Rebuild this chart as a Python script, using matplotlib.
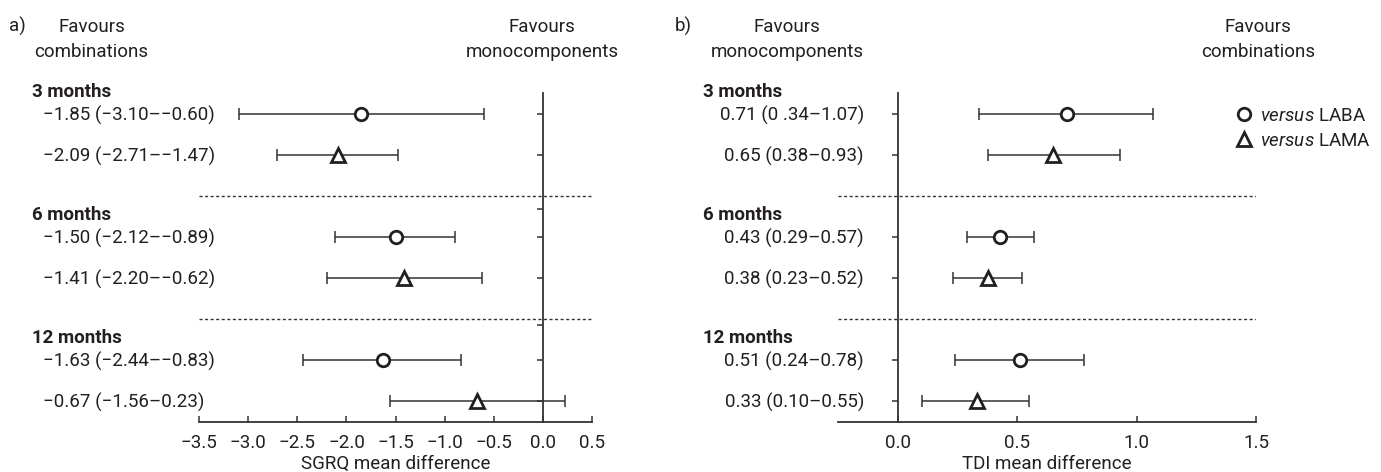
import matplotlib
matplotlib.use('Agg')
import matplotlib.pyplot as plt
from matplotlib.lines import Line2D
import matplotlib.transforms as mtransforms

W, H = 1381, 472
plt.rcParams['font.family'] = ['Roboto', 'DejaVu Sans']
plt.rcParams['mathtext.fontset'] = 'custom'
plt.rcParams['mathtext.it'] = 'Roboto:italic'
plt.rcParams['mathtext.rm'] = 'Roboto'
TC = '#231f20'
LC = '#333333'
FS = 13.5

# ---------------- data ----------------
groups = ['3 months', '6 months', '12 months']
comparators = ['versus LABA', 'versus LAMA']

sgrq_est = [-1.85, -2.09, -1.50, -1.41, -1.63, -0.67]
sgrq_lo = [-3.10, -2.71, -2.12, -2.20, -2.44, -1.56]
sgrq_hi = [-0.60, -1.47, -0.89, -0.62, -0.83, 0.23]
sgrq_labels = ['\u22121.85 (\u22123.10\u2013\u22120.60)', '\u22122.09 (\u22122.71\u2013\u22121.47)',
               '\u22121.50 (\u22122.12\u2013\u22120.89)', '\u22121.41 (\u22122.20\u2013\u22120.62)',
               '\u22121.63 (\u22122.44\u2013\u22120.83)', '\u22120.67 (\u22121.56\u20130.23)']
sgrq_ticks = [-3.5, -3.0, -2.5, -2.0, -1.5, -1.0, -0.5, 0.0, 0.5]
sgrq_ticklabels = ['\u22123.5', '\u22123.0', '\u22122.5', '\u22122.0', '\u22121.5', '\u22121.0', '\u22120.5', '0.0', '0.5']

tdi_est = [0.71, 0.65, 0.43, 0.38, 0.51, 0.33]
tdi_lo = [0.34, 0.38, 0.29, 0.23, 0.24, 0.10]
tdi_hi = [1.07, 0.93, 0.57, 0.52, 0.78, 0.55]
tdi_labels = ['0.71 (0 .34\u20131.07)', '0.65 (0.38\u20130.93)', '0.43 (0.29\u20130.57)',
              '0.38 (0.23\u20130.52)', '0.51 (0.24\u20130.78)', '0.33 (0.10\u20130.55)']
tdi_ticks = [0.0, 0.5, 1.0, 1.5]
tdi_ticklabels = ['0.0', '0.5', '1.0', '1.5']

# ---------------- layout ----------------
rows = [g * 3 + c for g in range(len(groups)) for c in range(len(comparators))]
markers = ['o', '^']
msizes = [9, 10]

fig = plt.figure(figsize=(W / 100, H / 100), dpi=100)
AX_BOT, AX_TOP = 421.7, 93
bot = 1 - AX_BOT / H
hgt = (AX_BOT - AX_TOP) / H
axa = fig.add_axes([199.3 / W, bot, (591.7 - 199.3) / W, hgt])
axb = fig.add_axes([838 / W, bot, (1256 - 838) / W, hgt])


def draw(ax, est, lo, hi, xlim, ticks, ticklabels, xlabel, ylabels, lab_x, lab_ha,
         head_x, extra_yticks):
    ax.set_xlim(*xlim)
    ax.set_ylim(7.5, -0.5)
    for sp in ['top', 'right']:
        ax.spines[sp].set_visible(False)
    ax.spines['left'].set_position(('data', 0))
    for sp in ['left', 'bottom']:
        ax.spines[sp].set_color(LC)
        ax.spines[sp].set_linewidth(1.3)
    xerr = [[e - l for e, l in zip(est, lo)], [h - e for e, h in zip(est, hi)]]
    ax.errorbar(est, rows, xerr=xerr, fmt='none', ecolor=LC, elinewidth=1.1,
                capsize=4.5, capthick=1.1, zorder=2)
    for k, (m, ms) in enumerate(zip(markers, msizes)):
        ax.plot(est[k::2], rows[k::2], linestyle='none', marker=m, ms=ms,
                mfc='white', mec=TC, mew=2.0, zorder=3)
    for yv in [2, 5]:
        ax.axhline(yv, color=LC, lw=1.0, linestyle=(0, (2.2, 1.8)), zorder=1)
    ax.set_xticks(ticks)
    ax.set_xticklabels(ticklabels)
    ax.set_yticks(sorted(rows + extra_yticks))
    ax.tick_params(axis='x', direction='in', length=4, width=1.1, color=LC,
                   labelsize=FS, labelcolor=TC, pad=9)
    ax.tick_params(axis='y', direction='out', length=4, width=1.1, color=LC,
                   labelleft=False)
    lab = ax.set_xlabel(xlabel, fontsize=FS, color=TC)
    lab.set_va('baseline')
    ax.xaxis.set_label_coords(0.5, (AX_BOT - 469) / (AX_BOT - AX_TOP))
    tr = mtransforms.blended_transform_factory(fig.transFigure, ax.transData)
    for yv, s in zip(rows, ylabels):
        ax.text(lab_x / W, yv + 0.165, s, transform=tr, ha=lab_ha, va='baseline',
                fontsize=FS, color=TC)
    for g, name in enumerate(groups):
        ax.text(head_x / W, g * 3 - 0.41, name, transform=tr, ha='left', va='baseline',
                fontsize=FS, color=TC, fontweight='bold')


draw(axa, sgrq_est, sgrq_lo, sgrq_hi, (-3.5, 0.5), sgrq_ticks, sgrq_ticklabels,
     'SGRQ mean difference', sgrq_labels, 43, 'left', 32, [2.32, 5.15])
draw(axb, tdi_est, tdi_lo, tdi_hi, (-0.25, 1.5), tdi_ticks, tdi_ticklabels,
     'TDI mean difference', tdi_labels, 864, 'right', 703, [])

# top annotations
y1 = 1 - 31.7 / H
y2 = 1 - 56.7 / H


def top(x, s1, s2):
    fig.text(x / W, y1, s1, ha='center', va='baseline', fontsize=FS, color=TC)
    fig.text(x / W, y2, s2, ha='center', va='baseline', fontsize=FS, color=TC)


fig.text(9 / W, y1, 'a)', ha='left', va='baseline', fontsize=FS, color=TC)
fig.text(675 / W, y1, 'b)', ha='left', va='baseline', fontsize=FS, color=TC)
top(91.5, 'Favours', 'combinations')
top(542.3, 'Favours', 'monocomponents')
top(787, 'Favours', 'monocomponents')
top(1258, 'Favours', 'combinations')

# legend
handles = [Line2D([], [], linestyle='none', marker=m, ms=ms, mfc='white', mec=TC, mew=2.0)
           for m, ms in zip(markers, msizes)]
leg_labels = ['$\\mathit{versus}$ LABA', '$\\mathit{versus}$ LAMA']
leg = fig.legend(handles, leg_labels, loc='upper left',
                 bbox_to_anchor=(1236 / W, 1 - 107 / H), frameon=False,
                 fontsize=FS, handlelength=0.8, handletextpad=0.5,
                 labelspacing=0.35, borderpad=0, borderaxespad=0)
for t in leg.get_texts():
    t.set_color(TC)

fig.savefig('out.png', dpi=100)
